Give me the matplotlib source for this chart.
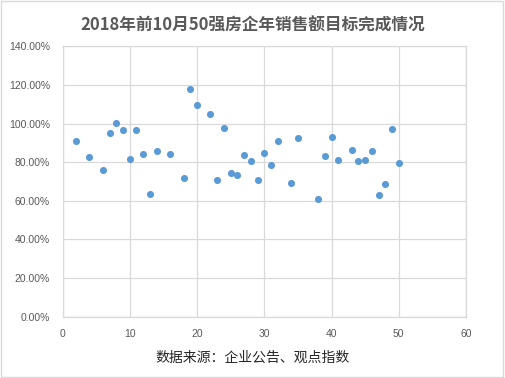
import numpy as np
import matplotlib.pyplot as plt
from matplotlib.patches import Rectangle
from matplotlib.ticker import PercentFormatter

plt.rcParams['font.family'] = ['Noto Sans CJK SC', 'DejaVu Sans']

# 排名 / 目标完成率(%)
rank = [2, 4, 6, 7, 8, 9, 10, 11, 12, 13, 14, 16, 18, 19, 20,
        22, 23, 24, 25, 26, 27, 28, 29, 30, 31, 32, 34, 35,
        38, 39, 40, 41, 43, 44, 45, 46, 47, 48, 49, 50]
rate = [90.8, 82.8, 75.9, 95.1, 100.4, 96.7, 81.8, 96.7, 84.4, 63.6, 86.0, 84.4, 71.6, 118.0, 109.5,
        105.2, 70.6, 97.8, 74.3, 73.2, 83.9, 80.7, 70.6, 85.0, 78.6, 90.8, 69.5, 92.4,
        61.0, 83.4, 93.0, 81.2, 86.6, 80.7, 81.2, 86.0, 63.1, 69.0, 97.2, 79.6]

title = '2018年前10月50强房企年销售额目标完成情况'
source = '数据来源：企业公告、观点指数'

grid_c = '#D9D9D9'
txt_c = '#595959'

fig = plt.figure(figsize=(5.05, 3.78), dpi=100)
ax = fig.add_axes([0.1238, 0.1622, 0.799, 0.7149])

ax.scatter(rank, rate, s=26, color='#5B9BD5', zorder=3, linewidths=0)

ax.set_xlim(0, 60)
ax.set_ylim(0, 140)
ax.set_xticks(np.arange(0, 61, 10))
ax.set_yticks(np.arange(0, 141, 20))
ax.yaxis.set_major_formatter(PercentFormatter(decimals=2))
ax.grid(True, color=grid_c, linewidth=0.9)
ax.set_axisbelow(True)
for s in ax.spines.values():
    s.set_color(grid_c)
    s.set_linewidth(0.9)
ax.tick_params(length=0, colors=txt_c, labelsize=7.5, pad=9)
for lab in ax.get_xticklabels() + ax.get_yticklabels():
    lab.set_family(['Liberation Sans', 'DejaVu Sans'])

fig.text(0.5, 0.931, title, ha='center', va='center', fontsize=12,
         fontweight='bold', color=txt_c)
fig.text(0.5, 0.053, source, ha='center', va='center', fontsize=10, color='#262626')

fig.patches.append(Rectangle((0.002, 0.003), 0.995, 0.994, transform=fig.transFigure,
                             fill=False, edgecolor=grid_c, linewidth=1))

fig.savefig('out.png', dpi=100)
